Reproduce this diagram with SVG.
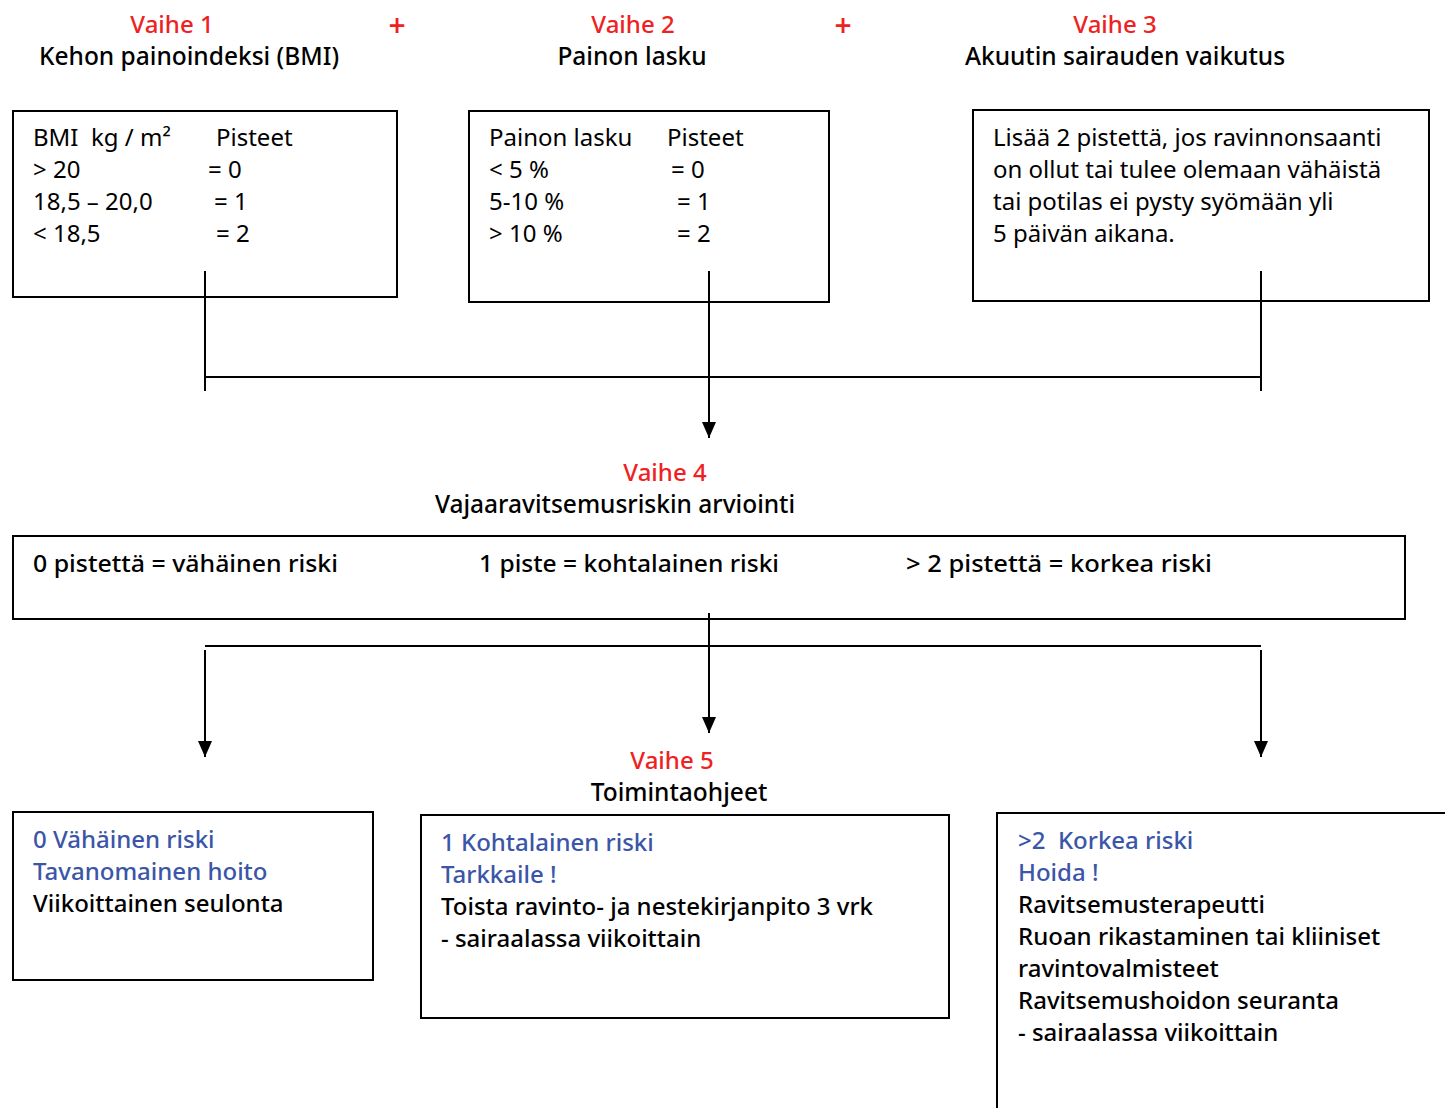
<svg xmlns="http://www.w3.org/2000/svg" width="1445" height="1108" viewBox="0 0 1445 1108">
<defs>
<marker id="arr" markerWidth="16" markerHeight="14" refX="16" refY="7" orient="auto" markerUnits="userSpaceOnUse" viewBox="0 0 16 14">
<path d="M0,0 L16,7 L0,14 Z" fill="#000"/>
</marker>
<style>
.box{fill:#fff;stroke:#000;stroke-width:2}
.ln{stroke:#000;stroke-width:2;fill:none}
text{white-space:pre}
.t{font-family:"Noto Sans","Open Sans",sans-serif;font-size:24px;fill:#000}
.h{font-family:"Noto Sans","Open Sans",sans-serif;font-size:24.5px;font-weight:500;fill:#000}
.r{font-family:"Noto Sans","Open Sans",sans-serif;font-size:24px;font-weight:500;fill:#ee2222}
.p{font-family:"Noto Sans","Open Sans",sans-serif;font-size:30px;font-weight:600;fill:#ee2222}
.b{font-family:"Noto Sans","Open Sans",sans-serif;font-size:24px;font-weight:500;fill:#3b55a8}
.k{font-family:"Noto Sans","Open Sans",sans-serif;font-size:24px;font-weight:500;fill:#000}
</style>
</defs>
<rect width="1445" height="1108" fill="#fff"/>

<g id="headers">
<text class="r" x="172" y="33" text-anchor="middle">Vaihe 1</text>
<text class="h" x="189" y="65" text-anchor="middle">Kehon painoindeksi (BMI)</text>
<text class="p" x="397" y="36" text-anchor="middle">+</text>
<text class="r" x="633" y="33" text-anchor="middle">Vaihe 2</text>
<text class="h" x="632" y="65" text-anchor="middle">Painon lasku</text>
<text class="p" x="843" y="36" text-anchor="middle">+</text>
<text class="r" x="1115" y="33" text-anchor="middle">Vaihe 3</text>
<text class="h" x="1125" y="65" text-anchor="middle">Akuutin sairauden vaikutus</text>
<text class="r" x="665" y="481" text-anchor="middle">Vaihe 4</text>
<text class="h" x="615" y="513" text-anchor="middle">Vajaaravitsemusriskin arviointi</text>
<text class="r" x="672" y="769" text-anchor="middle">Vaihe 5</text>
<text class="h" x="679" y="801" text-anchor="middle">Toimintaohjeet</text>
</g>

<g id="box1">
<rect class="box" x="13" y="111" width="384" height="186"/>
<text class="t" x="33" y="146">BMI  kg / m²</text>
<text class="t" x="216" y="146">Pisteet</text>
<text class="t" x="33" y="178">&gt; 20</text>
<text class="t" x="208" y="178">= 0</text>
<text class="t" x="33" y="210">18,5 – 20,0</text>
<text class="t" x="214" y="210">= 1</text>
<text class="t" x="33" y="242">&lt; 18,5</text>
<text class="t" x="216" y="242">= 2</text>
</g>

<g id="box2">
<rect class="box" x="469" y="111" width="360" height="191"/>
<text class="t" x="489" y="146">Painon lasku</text>
<text class="t" x="667" y="146">Pisteet</text>
<text class="t" x="489" y="178">&lt; 5 %</text>
<text class="t" x="671" y="178">= 0</text>
<text class="t" x="489" y="210">5-10 %</text>
<text class="t" x="677" y="210">= 1</text>
<text class="t" x="489" y="242">&gt; 10 %</text>
<text class="t" x="677" y="242">= 2</text>
</g>

<g id="box3">
<rect class="box" x="973" y="110" width="456" height="191"/>
<text class="t" x="993" y="146">Lisää 2 pistettä, jos ravinnonsaanti</text>
<text class="t" x="993" y="178">on ollut tai tulee olemaan vähäistä</text>
<text class="t" x="993" y="210">tai potilas ei pysty syömään yli</text>
<text class="t" x="993" y="242">5 päivän aikana.</text>
</g>

<g id="box4">
<rect class="box" x="13" y="536" width="1392" height="83"/>
<text class="k" x="33" y="572" textLength="305" lengthAdjust="spacingAndGlyphs">0 pistettä = vähäinen riski</text>
<text class="k" x="479" y="572" textLength="300" lengthAdjust="spacingAndGlyphs">1 piste = kohtalainen riski</text>
<text class="k" x="906" y="572" textLength="306" lengthAdjust="spacingAndGlyphs">&gt; 2 pistettä = korkea riski</text>
</g>

<g id="box5a">
<rect class="box" x="13" y="812" width="360" height="168"/>
<text class="b" x="33" y="848">0 Vähäinen riski</text>
<text class="b" x="33" y="880">Tavanomainen hoito</text>
<text class="k" x="33" y="912">Viikoittainen seulonta</text>
</g>

<g id="box5b">
<rect class="box" x="421" y="815" width="528" height="203"/>
<text class="b" x="441" y="851">1 Kohtalainen riski</text>
<text class="b" x="441" y="883">Tarkkaile !</text>
<text class="k" x="441" y="915">Toista ravinto- ja nestekirjanpito 3 vrk</text>
<text class="k" x="441" y="947">- sairaalassa viikoittain</text>
</g>

<g id="box5c">
<rect class="box" x="997" y="813" width="460" height="310"/>
<text class="b" x="1018" y="849">&gt;2  Korkea riski</text>
<text class="b" x="1018" y="881">Hoida !</text>
<text class="k" x="1018" y="913">Ravitsemusterapeutti</text>
<text class="k" x="1018" y="945">Ruoan rikastaminen tai kliiniset</text>
<text class="k" x="1018" y="977">ravintovalmisteet</text>
<text class="k" x="1018" y="1009">Ravitsemushoidon seuranta</text>
<text class="k" x="1018" y="1041">- sairaalassa viikoittain</text>
</g>

<g id="connectors">
<line class="ln" x1="205" y1="271" x2="205" y2="391"/>
<line class="ln" x1="1261" y1="271" x2="1261" y2="391"/>
<line class="ln" x1="205" y1="377" x2="1261" y2="377"/>
<line class="ln" x1="709" y1="271" x2="709" y2="438" marker-end="url(#arr)"/>
<line class="ln" x1="709" y1="613" x2="709" y2="733" marker-end="url(#arr)"/>
<line class="ln" x1="205" y1="646" x2="1261" y2="646"/>
<line class="ln" x1="205" y1="650" x2="205" y2="757" marker-end="url(#arr)"/>
<line class="ln" x1="1261" y1="650" x2="1261" y2="757" marker-end="url(#arr)"/>
</g>
</svg>
